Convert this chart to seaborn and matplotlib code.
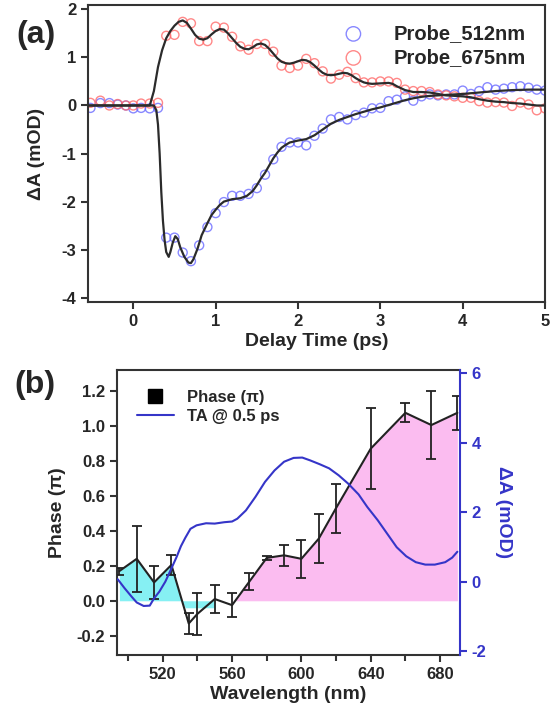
import numpy as np
import pandas as pd
import matplotlib
matplotlib.use("Agg")
import matplotlib.pyplot as plt
from matplotlib.lines import Line2D
from matplotlib.ticker import MultipleLocator, FormatStrFormatter
import seaborn as sns

# ---- panel (a): kinetic traces ----
delay_ps = [-0.52, -0.40, -0.29, -0.19, -0.09, 0.0, 0.095, 0.2, 0.3,
            0.4, 0.5, 0.6, 0.7, 0.8, 0.9, 1.0, 1.1, 1.2, 1.3, 1.4, 1.5, 1.6, 1.7,
            1.8, 1.9, 2.0, 2.1, 2.2, 2.3, 2.4, 2.5, 2.6, 2.7, 2.8, 2.9, 3.0, 3.1,
            3.2, 3.3, 3.4, 3.5, 3.6, 3.7, 3.8, 3.9, 4.0, 4.1, 4.2, 4.3, 4.4, 4.5,
            4.6, 4.7, 4.8, 4.9, 5.0]
probe_512 = [-0.05, 0.05, 0.05, 0.02, 0.0, -0.06, -0.05, -0.06, -0.05,
             -2.75, -2.75, -3.06, -3.24, -2.91, -2.53, -2.24, -2.01, -1.88, -1.88,
             -1.84, -1.72, -1.44, -1.12, -0.86, -0.77, -0.77, -0.83, -0.63, -0.48,
             -0.29, -0.24, -0.29, -0.20, -0.15, -0.06, -0.05, 0.09, 0.12, 0.19,
             0.10, 0.19, 0.23, 0.21, 0.23, 0.23, 0.31, 0.24, 0.30, 0.38, 0.33,
             0.35, 0.38, 0.40, 0.37, 0.33, 0.31]
probe_675 = [0.055, 0.10, 0.0, 0.03, 0.0, 0.0, 0.04, 0.04, 0.055,
             1.45, 1.47, 1.74, 1.71, 1.34, 1.34, 1.64, 1.62, 1.43, 1.23, 1.16,
             1.28, 1.28, 1.12, 0.83, 0.78, 0.83, 0.97, 0.88, 0.71, 0.56, 0.64,
             0.70, 0.57, 0.48, 0.48, 0.50, 0.50, 0.47, 0.33, 0.30, 0.30, 0.28,
             0.23, 0.21, 0.19, 0.16, 0.16, 0.09, 0.06, 0.07, 0.06, -0.01, 0.06,
             0.02, -0.10, -0.06]

# fitted curves
fit_t_675 = [-0.55, 0.2, 0.25, 0.3, 0.35, 0.4, 0.45, 0.5, 0.55, 0.6, 0.65, 0.7,
             0.75, 0.8, 0.85, 0.9, 0.95, 1.0, 1.05, 1.1, 1.15, 1.2, 1.25, 1.3,
             1.35, 1.4, 1.45, 1.5, 1.55, 1.6, 1.65, 1.7, 1.75, 1.8, 1.85, 1.9,
             1.95, 2.0, 2.05, 2.1, 2.15, 2.2, 2.25, 2.3, 2.35, 2.4, 2.45, 2.5,
             2.55, 2.6, 2.65, 2.7, 2.75, 2.8, 2.85, 2.9, 3.0, 3.1, 3.15, 3.2,
             3.3, 3.4, 3.5, 3.6, 3.7, 3.8, 3.9, 4.0, 4.1, 4.2, 4.3, 4.4, 4.5,
             4.6, 4.7, 4.8, 4.9, 5.0]
fit_675 = [0.0, 0.0, 0.3, 0.8, 1.15, 1.4, 1.55, 1.66, 1.74, 1.77, 1.72, 1.6,
           1.47, 1.39, 1.37, 1.4, 1.48, 1.55, 1.59, 1.58, 1.5, 1.4, 1.3, 1.22,
           1.18, 1.17, 1.21, 1.27, 1.29, 1.26, 1.18, 1.08, 0.98, 0.91, 0.88, 0.87,
           0.89, 0.92, 0.95, 0.94, 0.9, 0.83, 0.75, 0.68, 0.64, 0.63, 0.64, 0.66,
           0.68, 0.67, 0.63, 0.57, 0.52, 0.48, 0.46, 0.45, 0.46, 0.47, 0.45, 0.4,
           0.32, 0.28, 0.28, 0.27, 0.24, 0.21, 0.2, 0.19, 0.17, 0.13, 0.1, 0.08,
           0.07, 0.05, 0.04, 0.02, 0.0, 0.0]
fit_t_512 = [-0.55, 0.25, 0.28, 0.3, 0.32, 0.34, 0.36, 0.38, 0.40, 0.43, 0.45,
             0.48, 0.51, 0.54, 0.57, 0.62, 0.67, 0.7, 0.73, 0.78, 0.83, 0.9, 0.95,
             1.0, 1.05, 1.1, 1.2, 1.3, 1.38, 1.45, 1.5, 1.55, 1.6, 1.65, 1.7, 1.75,
             1.8, 1.85, 1.9, 2.0, 2.1, 2.2, 2.3, 2.4, 2.5, 2.6, 2.7, 2.8, 2.9, 3.0,
             3.1, 3.2, 3.3, 3.4, 3.5, 3.6, 3.7, 3.8, 3.9, 4.0, 4.2, 4.4, 4.6, 4.8,
             5.0]
fit_512 = [0.0, 0.0, -0.1, -0.4, -1.0, -1.8, -2.4, -2.8, -3.05, -3.15, -3.05,
           -2.85, -2.72, -2.78, -2.95, -3.15, -3.27, -3.28, -3.2, -2.98, -2.7,
           -2.45, -2.28, -2.17, -2.07, -2.0, -1.95, -1.93, -1.88, -1.78, -1.66,
           -1.52, -1.4, -1.25, -1.1, -0.98, -0.88, -0.82, -0.77, -0.73, -0.7,
           -0.62, -0.5, -0.38, -0.3, -0.24, -0.18, -0.13, -0.08, -0.04, 0.01,
           0.06, 0.11, 0.15, 0.18, 0.2, 0.21, 0.22, 0.23, 0.24, 0.27, 0.3, 0.32,
           0.33, 0.33]

# ---- panel (b): phase vs wavelength ----
wavelength = [495, 505, 515, 525, 535, 540, 550, 560, 570, 580, 590, 600, 610,
              620, 640, 660, 675, 690]
phase = [0.17, 0.24, 0.105, 0.205, -0.13, -0.075, 0.01, -0.025, 0.11, 0.245,
         0.26, 0.24, 0.355, 0.53, 0.87, 1.075, 1.005, 1.075]
phase_err = [0.02, 0.19, 0.095, 0.055, 0.06, 0.12, 0.078, 0.07, 0.05, 0.01,
             0.06, 0.11, 0.14, 0.14, 0.23, 0.055, 0.195, 0.097]
# shaded areas
cyan_wl = [495, 505, 515, 525, 531, 533, 550]
cyan_top = [0.17, 0.24, 0.105, 0.205, 0.0, -0.04, -0.04]
pink_wl = [562, 570, 580, 590, 600, 610, 620, 640, 660, 675, 690]
pink_top = [0.0, 0.11, 0.245, 0.26, 0.24, 0.355, 0.53, 0.87, 1.075, 1.005, 1.075]
# TA spectrum at 0.5 ps (right axis)
ta_wl = [494, 498, 502, 505, 509, 512.5, 515, 518, 521.5, 525, 528, 530.5, 533,
         536, 539.5, 545, 550, 555.5, 560, 563, 568, 573.5, 579, 584.5, 590,
         595.5, 600.5, 605, 610.5, 616, 621.5, 627, 633, 638, 644, 649.5, 655,
         660.5, 666, 671.5, 677, 683, 687, 690]
ta_val = [0.08, -0.18, -0.42, -0.59, -0.69, -0.68, -0.47, -0.28, 0.01, 0.39,
          0.72, 1.03, 1.27, 1.53, 1.63, 1.69, 1.68, 1.72, 1.74, 1.82, 2.06, 2.45,
          2.88, 3.21, 3.46, 3.57, 3.58, 3.5, 3.39, 3.27, 3.07, 2.83, 2.52, 2.16,
          1.78, 1.39, 1.0, 0.74, 0.57, 0.5, 0.5, 0.57, 0.7, 0.87]

sns.set_style("ticks")
plt.rcParams["font.family"] = ["Liberation Sans", "DejaVu Sans"]
plt.rcParams["font.weight"] = "bold"
plt.rcParams["axes.labelweight"] = "bold"
plt.rcParams["axes.unicode_minus"] = False

fig = plt.figure(figsize=(5.5, 7.1), dpi=100)
ax_a = fig.add_axes([0.16, 0.5746, 0.831, 0.4183])
ax_b = fig.add_axes([0.2127, 0.0775, 0.6236, 0.4014])

spine_col = "#333333"
red = "#ff6b6b"
blue = "#6b6bff"

# panel a
sns.scatterplot(x=delay_ps, y=probe_512, ax=ax_a, marker="o", s=42,
                facecolor="none", edgecolor=blue, linewidth=1.0, alpha=0.8,
                label="Probe_512nm", zorder=2)
sns.scatterplot(x=delay_ps, y=probe_675, ax=ax_a, marker="o", s=42,
                facecolor="none", edgecolor=red, linewidth=1.0, alpha=0.8,
                label="Probe_675nm", zorder=2)
sns.lineplot(x=fit_t_675, y=fit_675, ax=ax_a, color="#2b2b2b", lw=1.6,
             estimator=None, sort=False, zorder=3)
sns.lineplot(x=fit_t_512, y=fit_512, ax=ax_a, color="#2b2b2b", lw=1.6,
             estimator=None, sort=False, zorder=3)

ax_a.set_xlim(-0.55, 5.0)
ax_a.set_ylim(-4.09, 2.09)
ax_a.set_xticks([0, 1, 2, 3, 4, 5])
ax_a.set_yticks([-4, -3, -2, -1, 0, 1, 2])
ax_a.set_xlabel("Delay Time (ps)", fontsize=14, fontweight="bold", labelpad=3)
ax_a.set_ylabel("ΔA (mOD)", fontsize=14, fontweight="bold", labelpad=12)
leg = ax_a.legend(loc="upper right", frameon=False, fontsize=14.5,
                  markerscale=1.6, handletextpad=1.0, labelspacing=0.25,
                  borderaxespad=0.55)
for h in leg.legend_handles:
    h.set_alpha(0.8)

# panel b
ax_b.fill_between(cyan_wl, 0, cyan_top, color="#86f0f3", lw=0, zorder=1)
ax_b.fill_between(pink_wl, 0, pink_top, color="#fbbcf0", lw=0, zorder=1)
sns.lineplot(x=wavelength, y=phase, ax=ax_b, color="#222222", lw=1.5,
             estimator=None, sort=False, zorder=3)
ax_b.errorbar(wavelength, phase, yerr=phase_err, fmt="none", ecolor="#222222",
              elinewidth=1.3, capsize=3.5, capthick=1.3, zorder=4)

ax_b.set_xlim(493.6, 691.5)
ax_b.set_ylim(-0.31, 1.32)
ax_b.xaxis.set_major_locator(MultipleLocator(40))
ax_b.xaxis.set_minor_locator(MultipleLocator(20))
ax_b.yaxis.set_major_locator(MultipleLocator(0.2))
ax_b.yaxis.set_major_formatter(FormatStrFormatter("%.1f"))
ax_b.set_xlabel("Wavelength (nm)", fontsize=14, fontweight="bold", labelpad=3)
ax_b.set_ylabel("Phase (π)", fontsize=14, fontweight="bold", labelpad=8)

ax_r = ax_b.twinx()
ta_col = "#3535c8"
sns.lineplot(x=ta_wl, y=ta_val, ax=ax_r, color=ta_col, lw=1.5,
             estimator=None, sort=False)
ax_r.set_ylim(-2.1, 6.1)
ax_r.set_yticks([-2, 0, 2, 4, 6])
ax_r.set_ylabel("ΔA (mOD)", fontsize=14, fontweight="bold", color=ta_col,
                rotation=270, labelpad=18)
ax_r.tick_params(axis="y", colors=ta_col, labelsize=12, width=1.5, length=5)
for lab in ax_r.get_yticklabels():
    lab.set_fontweight("bold")
ax_r.spines["right"].set_color(ta_col)
ax_r.spines["right"].set_linewidth(1.5)
for s in ["left", "top", "bottom"]:
    ax_r.spines[s].set_visible(False)

handles = [Line2D([], [], marker="s", color="black", linestyle="none",
                  markersize=10),
           Line2D([], [], color=ta_col, lw=1.5)]
ax_r.legend(handles, ["Phase (π)", "TA @ 0.5 ps"], loc="upper left",
            frameon=False, fontsize=12, handlelength=2.2,
            handletextpad=0.8, labelspacing=0.25, borderaxespad=0.8)

for ax in (ax_a, ax_b):
    for s in ax.spines.values():
        s.set_color(spine_col)
        s.set_linewidth(1.5)
    ax.tick_params(axis="both", direction="out", length=5, width=1.5,
                   labelsize=12, color=spine_col)
    ax.tick_params(which="minor", direction="out", length=4, width=1.5,
                   color=spine_col)
    for lab in ax.get_xticklabels() + ax.get_yticklabels():
        lab.set_fontweight("bold")
ax_b.spines["right"].set_visible(False)

fig.text(0.065, 0.951, "(a)", fontsize=23, fontweight="bold",
         ha="center", va="center")
fig.text(0.064, 0.458, "(b)", fontsize=23, fontweight="bold",
         ha="center", va="center")

fig.savefig("out.png", dpi=100)
